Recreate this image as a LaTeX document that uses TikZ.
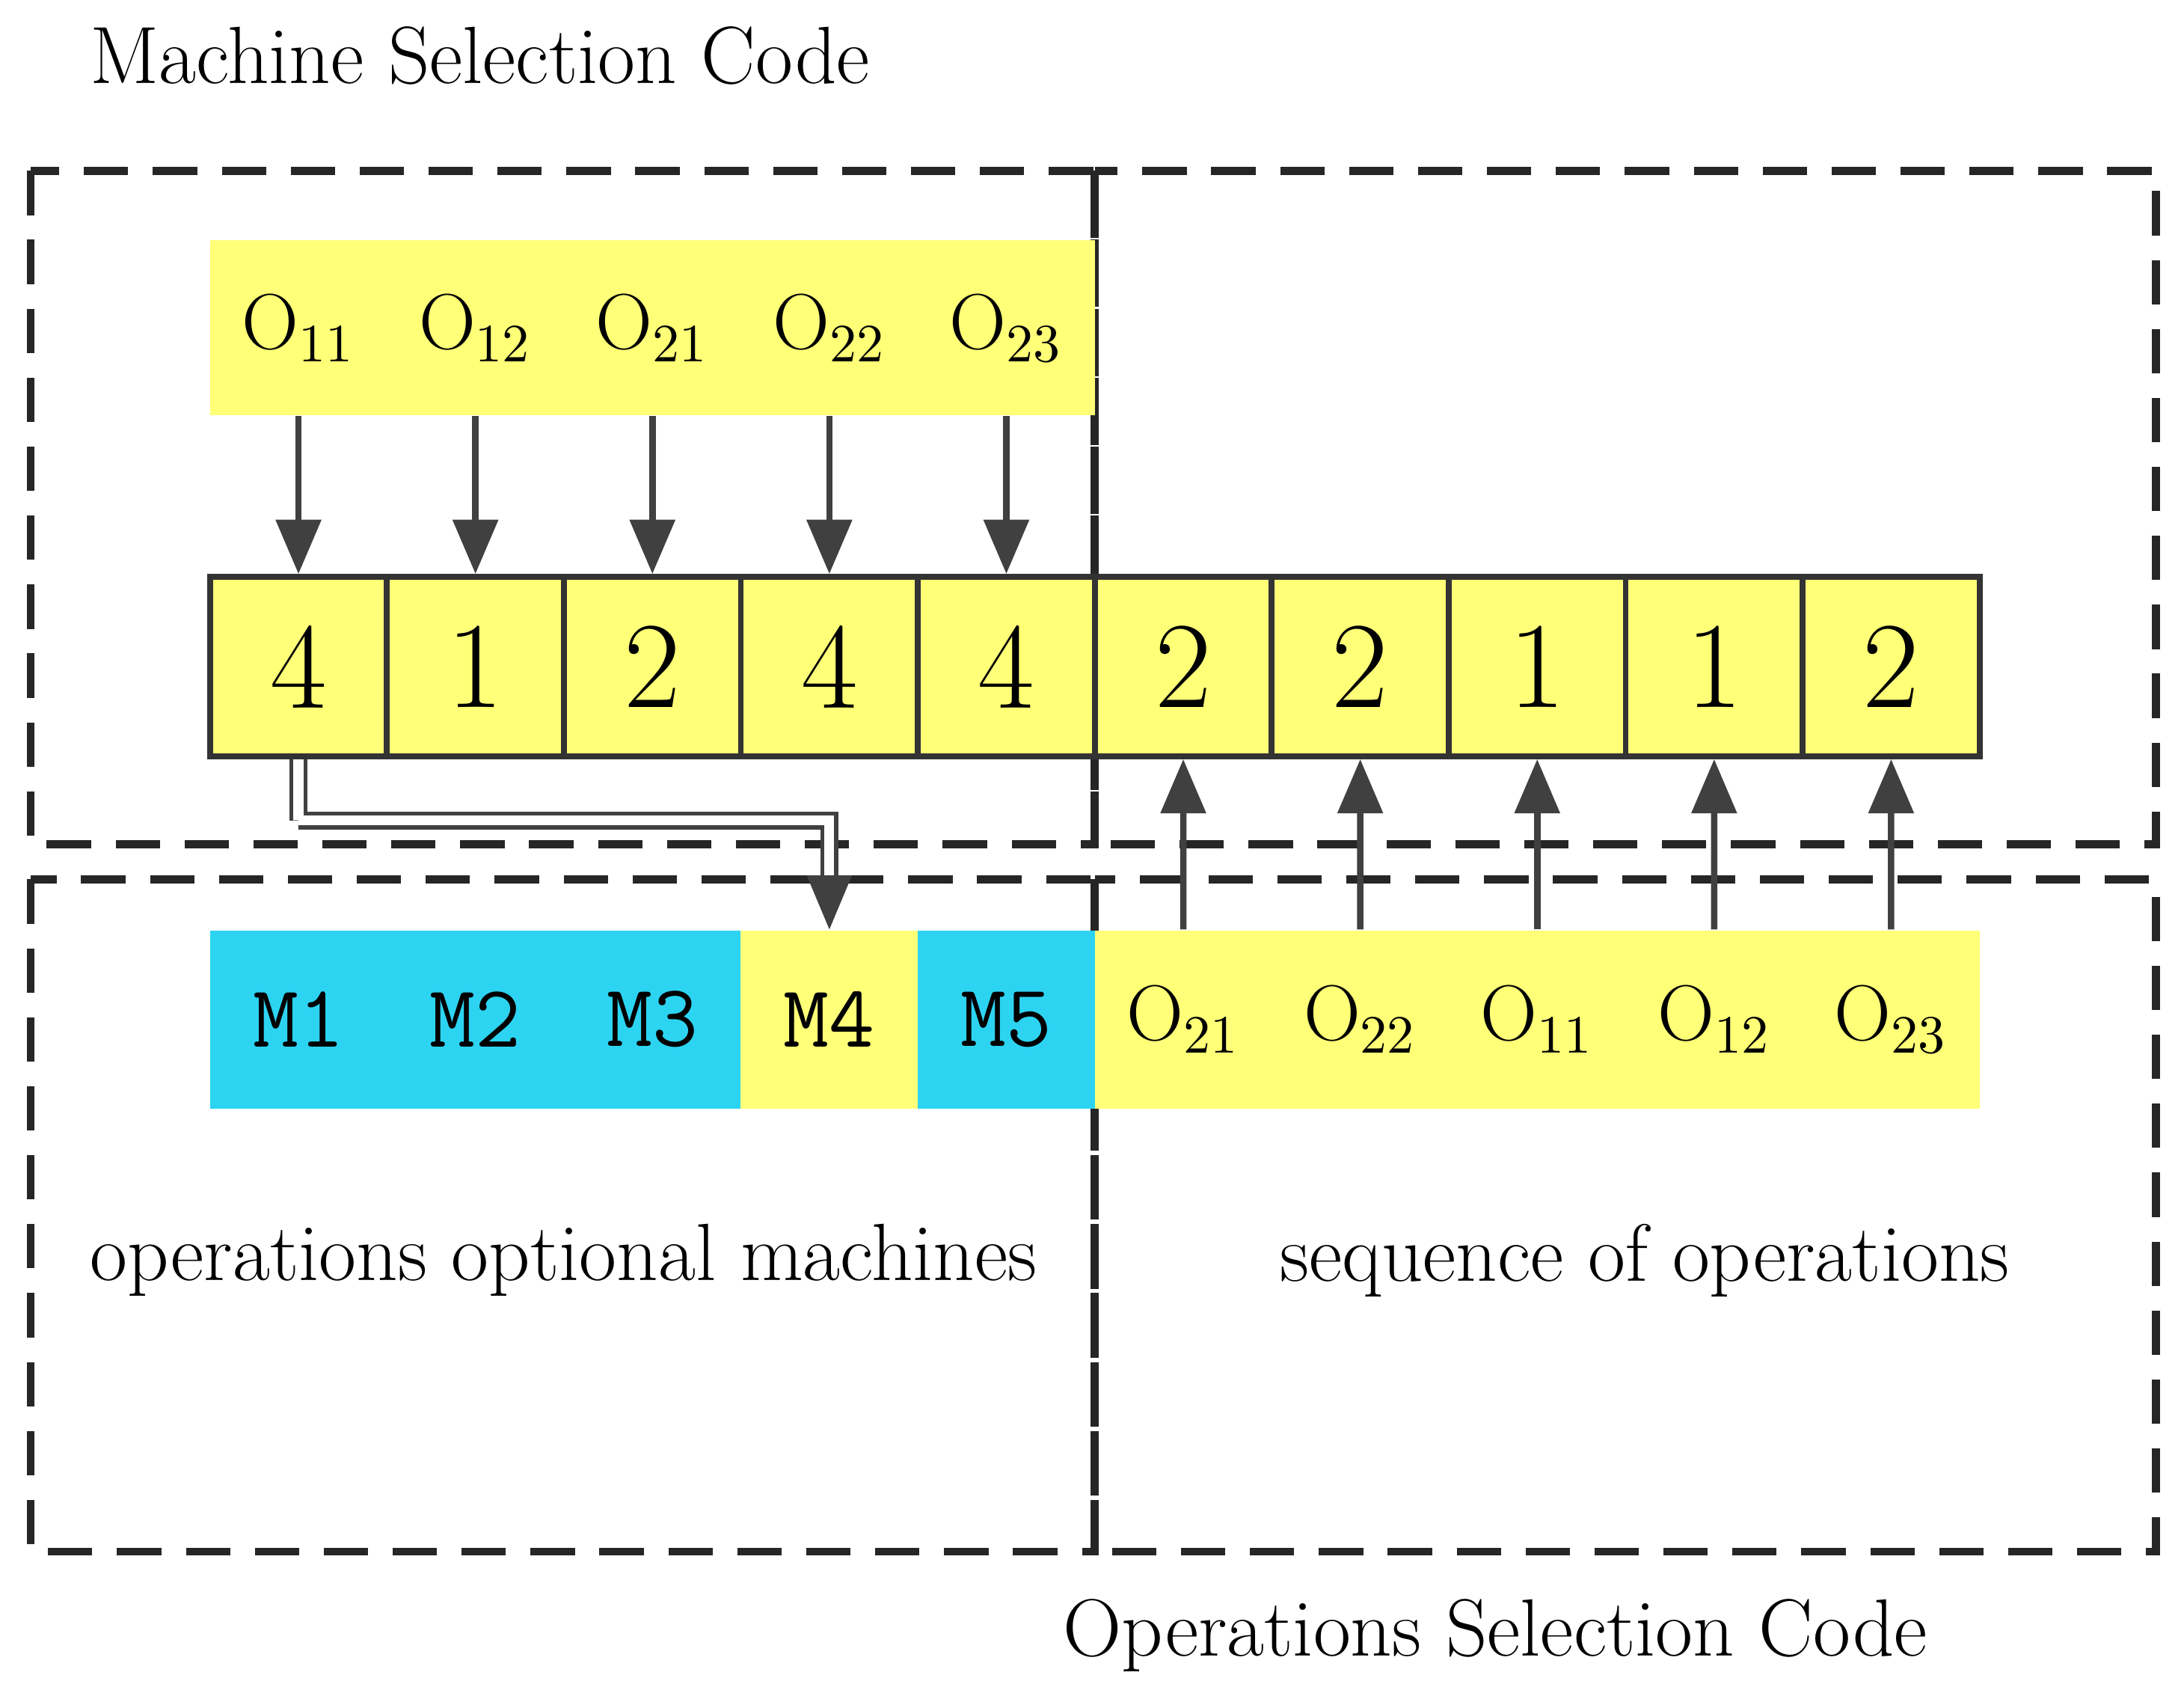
\documentclass[tikz,border=0pt]{standalone}
\usetikzlibrary{positioning,calc,arrows.meta}
\definecolor{cellyellow}{RGB}{255,255,120}
\definecolor{cellblue}{RGB}{45,212,242}
\begin{document}
\begin{tikzpicture}
    [
    x=0.01cm, y=-0.01cm,
    region/.style={draw=black!85, line width=1.6pt, dash pattern=on 9pt off 5pt},
    opcell/.style={fill=cellyellow, minimum width=1.264cm, minimum height=1.25cm,
      inner sep=0pt, font=\fontsize{16}{19}\selectfont},
    gene/.style={draw=black!80, line width=1.2pt, fill=cellyellow, minimum width=1.264cm,
      minimum height=1.28cm, inner sep=0pt, font=\fontsize{25}{28}\selectfont},
    mcell/.style={minimum width=1.264cm, minimum height=1.27cm, inner sep=0pt,
      font=\ttfamily\fontsize{18}{21}\selectfont},
    link/.style={line width=1.3pt, black!75, -{Triangle[length=11pt,width=9pt]}},
    caption/.style={font=\fontsize{16.5}{20}\selectfont, anchor=west}
    ]
    \useasboundingbox (0,0) rectangle (1560,1213);

    % dashed regions
    \draw[region] (22,122) rectangle (782,603);
    \draw[region] (782,122) rectangle (1540,603);
    \draw[region] (22,628) rectangle (782,1108);
    \draw[region] (782,628) rectangle (1540,1108);

    % captions
    \node[caption] (msc) at (52,40) {Machine Selection Code};
    \node[caption] (ooml) at (52,900) {operations optional machines};
    \node[caption] (soo) at (902,900) {sequence of operations};
    \node[caption] (osc) at (747,1168) {Operations Selection Code};

    % operations row
    \foreach \s [count=\i] in {11,12,21,22,23}
      \node[opcell] (op\i) at ({150+126.4*(\i-0.5)},234) {O$_{\s}$};

    % chromosome row
    \foreach \v [count=\i] in {4,1,2,4,4,2,2,1,1,2}
      \node[gene] (g\i) at ({150+126.4*(\i-0.5)},476) {\v};

    % machines and sequence row
    \foreach \t/\c [count=\i] in {M1/cellblue,M2/cellblue,M3/cellblue,M4/cellyellow,M5/cellblue}
      \node[mcell, fill=\c] (m\i) at ({150+126.4*(\i-0.5)},728) {\t};
    \foreach \s [count=\i] in {21,22,11,12,23}
      \node[opcell, minimum height=1.27cm] (sq\i) at ({782+126.4*(\i-0.5)},728) {O$_{\s}$};

    % connectors
    \foreach \i in {1,...,5}
      \draw[link] (op\i.south) -- (g\i.north);
    \foreach \i [evaluate=\i as \j using int(\i+5)] in {1,...,5}
      \draw[link] (sq\i.north) -- (g\j.south);
    \draw[link, double=white, double distance=2pt, line width=0.8pt] (g1.south) |- ($(g1.south)!0.36!(g1.south |- m1.north)$) -| (m4.north);
\end{tikzpicture}
\end{document}
